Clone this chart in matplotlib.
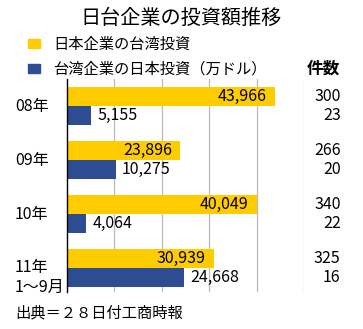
import matplotlib
matplotlib.use("Agg")
import matplotlib.pyplot as plt
from matplotlib.patches import Rectangle

plt.rcParams['font.family'] = ['Noto Sans CJK JP', 'DejaVu Sans']

years = ['08年', '09年', '10年', '11年\n1〜9月']
jp_to_tw = [43966, 23896, 40049, 30939]   # 日本企業の台湾投資
tw_to_jp = [5155, 10275, 4064, 24668]     # 台湾企業の日本投資
count_jp = [300, 266, 340, 325]
count_tw = [23, 20, 22, 16]

YELLOW = '#FFCC00'
BLUE = '#2D4C92'

W, H = 363, 329
fig = plt.figure(figsize=(W / 100, H / 100), dpi=100)

def fx(px):
    return px / W

def fy(py):
    return 1 - py / H

ax = fig.add_axes([fx(67), fy(292), fx(304) - fx(67), fy(79) - fy(292)])

h = 0.36
for i in range(len(years)):
    ax.barh(i - h / 2, jp_to_tw[i], height=h, color=YELLOW, zorder=2)
    ax.barh(i + h / 2, tw_to_jp[i], height=h, color=BLUE, zorder=2)
    ax.annotate(f'{jp_to_tw[i]:,}', (jp_to_tw[i], i - h / 2), xytext=(-6, 0),
                textcoords='offset points', ha='right', va='center', fontsize=11.5, zorder=3)
    ax.annotate(f'{tw_to_jp[i]:,}', (tw_to_jp[i], i + h / 2), xytext=(4.5, 0),
                textcoords='offset points', ha='left', va='center', fontsize=11.5, zorder=3)
    # 件数
    ax.text(1.155, i - h / 2, str(count_jp[i]), transform=ax.get_yaxis_transform(),
            ha='right', va='center', fontsize=11.5, clip_on=False)
    ax.text(1.155, i + h / 2, str(count_tw[i]), transform=ax.get_yaxis_transform(),
            ha='right', va='center', fontsize=11.5, clip_on=False)

ax.text(-0.22, 0, years[0], transform=ax.get_yaxis_transform(), ha='left', va='center', fontsize=11.5)
ax.text(-0.22, 1, years[1], transform=ax.get_yaxis_transform(), ha='left', va='center', fontsize=11.5)
ax.text(-0.22, 2, years[2], transform=ax.get_yaxis_transform(), ha='left', va='center', fontsize=11.5)
ax.text(-0.22, 3.17, years[3], transform=ax.get_yaxis_transform(), ha='left', va='center',
        fontsize=11.5, linespacing=1.25)

ax.set_xlim(0, 50000)
ax.set_ylim(3.444, -0.5)
ax.set_xticks([10000, 20000, 30000, 40000, 50000])
ax.xaxis.grid(True, color='#bbbbbb', linewidth=0.9, zorder=0)
ax.tick_params(length=0, labelbottom=False, labelleft=False)
ax.set_yticks([])
for s in ['top', 'bottom', 'right']:
    ax.spines[s].set_visible(False)
ax.spines['left'].set_color('black')
ax.spines['left'].set_linewidth(1.0)

# タイトルと凡例
fig.text(fx(181), fy(18), '日台企業の投資額推移', ha='center', va='center', fontsize=14.5)
fig.add_artist(Rectangle((fx(28), fy(48)), fx(12), fy(39) - fy(48), color=YELLOW,
                         transform=fig.transFigure))
fig.add_artist(Rectangle((fx(28), fy(73)), fx(12), fy(64) - fy(73), color=BLUE,
                         transform=fig.transFigure))
fig.text(fx(53), fy(44), '日本企業の台湾投資', ha='left', va='center', fontsize=11)
fig.text(fx(53), fy(69), '台湾企業の日本投資（万ドル）', ha='left', va='center', fontsize=11)
fig.text(fx(323), fy(69), '件数', ha='center', va='center', fontsize=12, fontweight='bold')

fig.text(fx(15), fy(313), '出典＝２８日付工商時報', ha='left', va='center', fontsize=11)

fig.savefig('out.png', dpi=100)
